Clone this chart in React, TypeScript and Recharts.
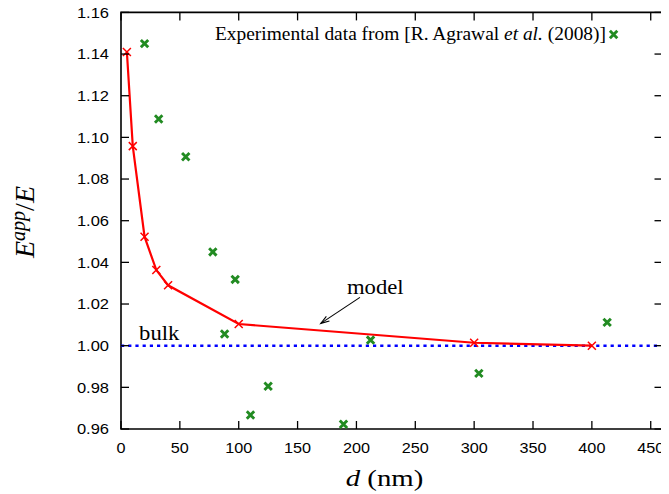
import React from 'react';
import {
  ComposedChart,
  Line,
  Scatter,
  XAxis,
  YAxis,
  ReferenceLine,
  ReferenceArea,
  ReferenceDot,
  Legend,
} from 'recharts';

// ---- data ----
const modelD = [5, 10, 20, 30, 40, 100, 300, 400];
const modelE = [1.141, 1.0958, 1.0523, 1.0363, 1.029, 1.0104, 1.0014, 1.0];
const expD = [20, 32, 55, 78, 88, 97, 110, 125, 189, 212, 304, 413];
const expE = [1.145, 1.1088, 1.0907, 1.045, 1.0056, 1.0318, 0.9667, 0.9805, 0.9623, 1.0027, 0.9867, 1.0112];
const xTicks = [0, 50, 100, 150, 200, 250, 300, 350, 400, 450];
const yTicks = [0.96, 0.98, 1.0, 1.02, 1.04, 1.06, 1.08, 1.1, 1.12, 1.14, 1.16];
const bulkValue = 1.0;
const keyLabel = ['Experimental data from [R. Agrawal ', 'et al.', ' (2008)]'];

const modelData = modelD.map((d, i) => ({ d, e: modelE[i] }));
const expData = expD.map((d, i) => ({ d, e: expE[i] }));

// ---- layout ----
const W = 661;
const H = 486;
const PL = 113;
const PR = 654.5;
const PT = 4.4;
const PB = 421;
const TICK = 8;
const SANS = 'Liberation Sans, Arial, Helvetica, sans-serif';
const SERIF = 'Liberation Serif, Times New Roman, serif';
const RED = '#ff0000';
const GREEN = '#228b22';
const BLUE = '#0000ff';
const TICK_FS = 15;

const XTick = (props: any) => {
  const { x, payload } = props;
  return (
    <g>
      <line x1={x} x2={x} y1={PB} y2={PB - TICK} stroke="#000" strokeWidth={1.3} />
      <line x1={x} x2={x} y1={PT} y2={PT + TICK} stroke="#000" strokeWidth={1.3} />
      <text
        transform={`translate(${x},445.3) scale(1.08,1)`}
        textAnchor="middle"
        fontFamily={SANS}
        fontSize={TICK_FS}
        fill="#000"
      >
        {payload.value}
      </text>
    </g>
  );
};

const YTick = (props: any) => {
  const { y, payload } = props;
  return (
    <g>
      <line x1={PL} x2={PL + TICK} y1={y} y2={y} stroke="#000" strokeWidth={1.3} />
      <line x1={PR} x2={PR - TICK} y1={y} y2={y} stroke="#000" strokeWidth={1.3} />
      <text
        transform={`translate(101,${y + 5.3}) scale(1.1,1)`}
        textAnchor="end"
        fontFamily={SANS}
        fontSize={TICK_FS}
        fill="#000"
      >
        {Number(payload.value).toFixed(2)}
      </text>
    </g>
  );
};

const RedX = (props: any) => {
  const { cx, cy } = props;
  if (cx == null || cy == null) return null;
  const s = 4;
  return (
    <path
      d={`M${cx - s},${cy - s}L${cx + s},${cy + s}M${cx - s},${cy + s}L${cx + s},${cy - s}`}
      stroke={RED}
      strokeWidth={1.5}
      fill="none"
    />
  );
};

const greenPath = (cx: number, cy: number) => {
  const s = 3.7;
  return `M${cx - s},${cy - s}L${cx + s},${cy + s}M${cx - s},${cy + s}L${cx + s},${cy - s}`;
};

const GreenX = (props: any) => {
  const { cx, cy } = props;
  if (cx == null || cy == null) return null;
  return <path d={greenPath(cx, cy)} stroke={GREEN} strokeWidth={2.9} fill="none" />;
};

const Arrow = (props: any) => {
  const { x1, y1, x2, y2 } = props;
  if (x1 == null) return null;
  const dx = x2 - x1;
  const dy = y2 - y1;
  const len = Math.sqrt(dx * dx + dy * dy) || 1;
  const ux = dx / len;
  const uy = dy / len;
  const hl = 9;
  const ang = (18 * Math.PI) / 180;
  const c = Math.cos(ang);
  const s = Math.sin(ang);
  const ax = x2 - hl * (ux * c - uy * s);
  const ay = y2 - hl * (uy * c + ux * s);
  const bx = x2 - hl * (ux * c + uy * s);
  const by = y2 - hl * (uy * c - ux * s);
  return (
    <g>
      <line x1={x1} y1={y1} x2={x2} y2={y2} stroke="#000" strokeWidth={1.1} />
      <path d={`M${ax},${ay}L${x2},${y2}L${bx},${by}`} stroke="#000" strokeWidth={1.1} fill="none" />
    </g>
  );
};

const TextAt = (text: string) => (props: any) => {
  const { cx, cy } = props;
  if (cx == null) return null;
  return (
    <text
      transform={`translate(${cx},${cy}) scale(1.08,1)`}
      textAnchor="middle"
      fontFamily={SERIF}
      fontSize={21}
      fill="#000"
    >
      {text}
    </text>
  );
};

const YTitle = () => (
  <text
    transform={`translate(26,214) rotate(-90)`}
    textAnchor="middle"
    fontFamily={SERIF}
    fontSize={28}
    fill="#000"
  >
    <tspan fontStyle="italic">E</tspan>
    <tspan fontStyle="italic" fontSize={20} dy={-9}>
      app
    </tspan>
    <tspan dy={9}>/</tspan>
    <tspan fontStyle="italic">E</tspan>
  </text>
);

const XTitle = () => (
  <text
    transform={`translate(376.5,478.4) scale(1.2,1)`}
    textAnchor="middle"
    fontFamily={SERIF}
    fontSize={24}
    fill="#000"
  >
    <tspan fontStyle="italic">d</tspan>
    <tspan>{' (nm)'}</tspan>
  </text>
);

const KeyContent = () => (
  <svg width={W} height={50} style={{ display: 'block', overflow: 'visible' }}>
    <text
      transform={`translate(598,32) scale(1.08,1)`}
      textAnchor="end"
      fontFamily={SERIF}
      fontSize={18}
      fill="#000"
    >
      <tspan>{keyLabel[0]}</tspan>
      <tspan fontStyle="italic">{keyLabel[1]}</tspan>
      <tspan>{keyLabel[2]}</tspan>
    </text>
    <path d={greenPath(605.6, 26.5)} stroke={GREEN} strokeWidth={2.9} fill="none" />
  </svg>
);

export default function App() {
  return (
    <div style={{ width: W, height: H }}>
      <style>{'.recharts-surface{overflow:visible}'}</style>
      <ComposedChart
        width={W}
        height={H}
        data={modelData}
        margin={{ top: PT, right: W - PR, left: PL - 60, bottom: H - PB - 40 }}
      >
        <XAxis
          type="number"
          dataKey="d"
          domain={[0, 460]}
          ticks={xTicks}
          interval={0}
          allowDataOverflow
          axisLine={false}
          tickLine={false}
          height={40}
          tick={(p: any) => <XTick {...p} />}
          label={<XTitle />}
        />
        <YAxis
          type="number"
          dataKey="e"
          domain={[0.96, 1.16]}
          ticks={yTicks}
          interval={0}
          allowDataOverflow
          axisLine={false}
          tickLine={false}
          width={60}
          tick={(p: any) => <YTick {...p} />}
          label={<YTitle />}
        />
        <ReferenceArea
          x1={0}
          x2={460}
          y1={0.96}
          y2={1.16}
          fill="none"
          fillOpacity={0}
          stroke="#000"
          strokeWidth={1.6}
        />
        <ReferenceLine
          y={bulkValue}
          stroke={BLUE}
          strokeWidth={2.6}
          strokeDasharray="3.2 4"
        />
        <Line
          type="linear"
          dataKey="e"
          stroke={RED}
          strokeWidth={2.2}
          dot={(p: any) => <RedX key={`r${p.index}`} {...p} />}
          activeDot={false}
          isAnimationActive={false}
        />
        <Scatter
          data={expData}
          dataKey="e"
          shape={(p: any) => <GreenX {...p} />}
          isAnimationActive={false}
        />
        <ReferenceLine
          segment={[
            { x: 203, y: 1.0232 },
            { x: 169.7, y: 1.0107 },
          ]}
          shape={(p: any) => <Arrow {...p} />}
        />
        <ReferenceDot x={216} y={1.0247} r={0} shape={TextAt('model')} />
        <ReferenceDot x={32.5} y={1.0027} r={0} shape={TextAt('bulk')} />
        <Legend
          layout="vertical"
          align="center"
          verticalAlign="middle"
          wrapperStyle={{ position: 'absolute', left: 0, top: 0, width: W, height: 50, margin: 0, padding: 0, pointerEvents: 'none' }}
          content={() => <KeyContent />}
        />
      </ComposedChart>
    </div>
  );
}
